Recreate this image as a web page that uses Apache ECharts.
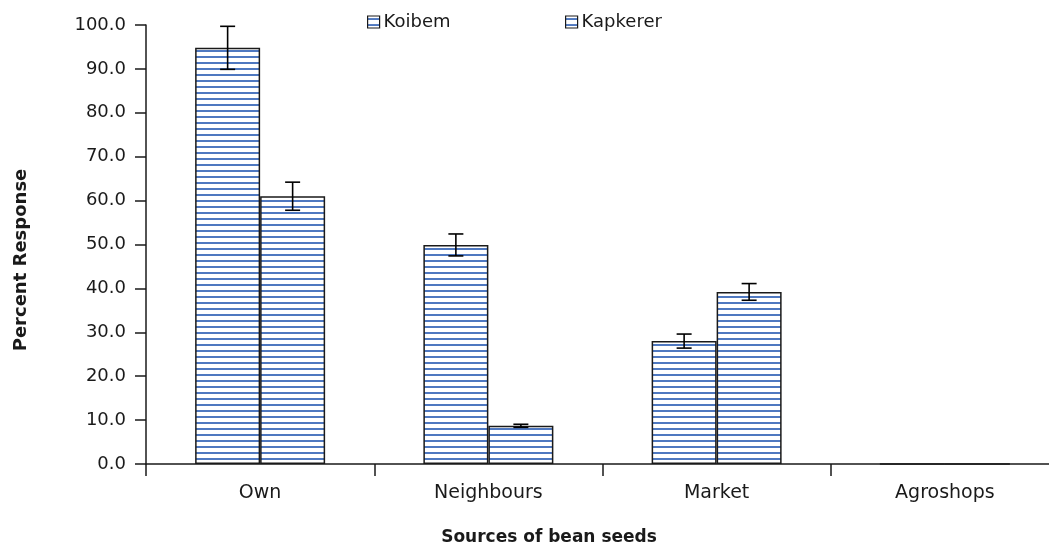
<!DOCTYPE html>
<html>
<head>
<meta charset="utf-8">
<script src="https://cdn.jsdelivr.net/npm/echarts@6/dist/echarts.min.js"></script>
<style>html,body{margin:0;padding:0;background:#fff;overflow:hidden;width:1049px;height:547px}#c{width:1059px;height:547px}</style>
</head>
<body>
<div id="c"></div>
<script>
const categories = ['Own', 'Neighbours', 'Market', 'Agroshops'];
const koibem = [94.8, 49.9, 28.0, 0];
const kapkerer = [61.0, 8.7, 39.2, 0];
const koibemErr = [4.9, 2.5, 1.6, 0];
const kapkererErr = [3.2, 0.35, 1.9, 0];
const yTicks = [0, 10, 20, 30, 40, 50, 60, 70, 80, 90, 100];

function makePattern() {
  const cv = document.createElement('canvas');
  cv.width = 6; cv.height = 6;
  const ctx = cv.getContext('2d');
  ctx.fillStyle = '#ffffff';
  ctx.fillRect(0, 0, 6, 6);
  ctx.fillStyle = '#4f78c0';
  ctx.fillRect(0, 2, 6, 2);
  return cv;
}
const pattern = { image: makePattern(), repeat: 'repeat' };

function errData(vals, errs) {
  return vals.map((v, i) => [i, v - errs[i], v + errs[i], errs[i]]);
}
function errRender(offset) {
  return function (params, api) {
    const e = api.value(3);
    if (!e) return null;
    const x = api.value(0);
    const lo = api.coord([x, api.value(1)]);
    const hi = api.coord([x, api.value(2)]);
    const cx = lo[0] + offset;
    const hw = 7.5;
    const style = { stroke: '#000', lineWidth: 1.6 };
    return {
      type: 'group',
      children: [
        { type: 'line', shape: { x1: cx, y1: hi[1], x2: cx, y2: lo[1] }, style },
        { type: 'line', shape: { x1: cx - hw, y1: hi[1], x2: cx + hw, y2: hi[1] }, style },
        { type: 'line', shape: { x1: cx - hw, y1: lo[1], x2: cx + hw, y2: lo[1] }, style }
      ]
    };
  };
}

const font = '"DejaVu Sans", Verdana, sans-serif';
const legendBase = {
  top: 8, icon: 'rect', itemWidth: 12, itemHeight: 12,
  textStyle: { fontFamily: font, fontSize: 18, color: '#1a1a1a', padding: [0, 0, 0, -1] },
  itemStyle: { borderColor: '#1a1a1a', borderWidth: 1.2 }
};
const chart = echarts.init(document.getElementById('c'));
chart.setOption({
  animation: false,
  backgroundColor: '#fff',
  grid: { left: 146, right: 0, top: 25, bottom: 83, containLabel: false },
  legend: [
    Object.assign({}, legendBase, { data: ['Koibem'], left: 362 }),
    Object.assign({}, legendBase, { data: ['Kapkerer'], left: 560 })
  ],
  xAxis: {
    type: 'category',
    data: categories,
    axisLine: { lineStyle: { color: '#1a1a1a', width: 1.5 } },
    axisTick: { show: true, length: 12, lineStyle: { color: '#1a1a1a', width: 1.5 } },
    axisLabel: { fontFamily: font, fontSize: 19, color: '#1a1a1a', margin: 20 },
    splitLine: { show: false }
  },
  yAxis: {
    type: 'value',
    min: 0, max: 100, interval: 10,
    axisLine: { show: true, lineStyle: { color: '#1a1a1a', width: 1.5 } },
    axisTick: { show: true, length: 11, lineStyle: { color: '#1a1a1a', width: 1.5 } },
    axisLabel: { fontFamily: font, fontSize: 18, color: '#1a1a1a', margin: 20,
      formatter: v => yTicks.includes(v) ? v.toFixed(1) : '' },
    splitLine: { show: false }
  },
  graphic: [
    { type: 'text', x: 549, y: 538,
      style: { text: 'Sources of bean seeds', font: 'bold 17px ' + font, fill: '#1a1a1a',
        align: 'center', verticalAlign: 'middle' } },
    { type: 'text', rotation: Math.PI / 2, x: 21, y: 260,
      style: { text: 'Percent Response', font: 'bold 18px ' + font, fill: '#1a1a1a',
        align: 'center', verticalAlign: 'middle' } }
  ],
  series: [
    { name: 'Koibem', type: 'bar', data: koibem, barWidth: 65, barGap: '0%',
      itemStyle: { color: pattern, borderColor: '#1a1a1a', borderWidth: 1.5 } },
    { name: 'Kapkerer', type: 'bar', data: kapkerer, barWidth: 65, barGap: '0%',
      itemStyle: { color: pattern, borderColor: '#1a1a1a', borderWidth: 1.5 } },
    { name: 'errK', type: 'custom', renderItem: errRender(-32.5), data: errData(koibem, koibemErr),
      encode: { x: 0, y: [1, 2] }, z: 10, silent: true },
    { name: 'errP', type: 'custom', renderItem: errRender(32.5), data: errData(kapkerer, kapkererErr),
      encode: { x: 0, y: [1, 2] }, z: 10, silent: true }
  ]
});
</script>
</body>
</html>
